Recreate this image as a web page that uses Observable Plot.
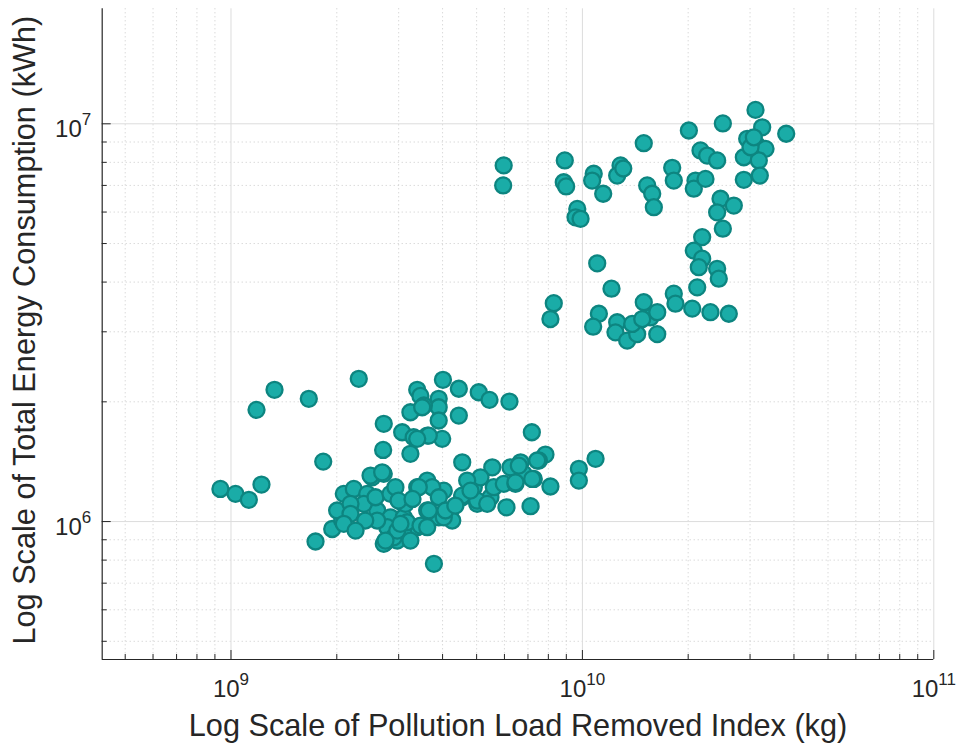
<!DOCTYPE html>
<html>
<head>
<meta charset="utf-8">
<script src="https://cdn.jsdelivr.net/npm/d3@7"></script>
<script src="https://cdn.jsdelivr.net/npm/@observablehq/plot@0.6"></script>
<style>
  html, body { margin: 0; padding: 0; background: #ffffff; }
  #chart svg { display: block; }
</style>
</head>
<body>
<div id="chart"></div>
<script>
// Pollution load removed index, in units of 1e9 kg
const pollutionLoad = [
  5.97, 5.95, 8.91, 8.85, 8.99, 10.77, 10.66, 11.46, 12.84, 12.56, 13.07, 14.95, 15.29, 15.80, 15.97,
  9.67, 9.56, 9.88, 18.01, 18.20, 20.09, 20.98, 20.75, 22.40, 21.68, 22.65, 24.18, 25.10, 24.72, 24.18,
  26.97, 25.10, 21.92, 20.75, 21.92, 21.44, 24.18, 24.44, 21.22, 11.02, 12.10, 8.29, 8.11, 11.14, 10.73,
  12.56, 12.42, 13.41, 14.32, 14.95, 15.62, 16.33, 16.33, 18.20, 18.40, 20.54, 23.14, 26.10, 13.86, 14.80,
  31.09, 32.48, 29.44, 31.44, 33.20, 28.80, 31.77, 28.80, 31.98, 38.02, 30.09, 30.75,
  0.933, 1.030, 1.124, 1.221, 1.182, 1.330, 1.665, 2.310, 1.830, 2.721, 2.710, 3.388, 3.46, 4.01, 4.45,
  5.07, 5.44, 6.20, 3.90, 3.90, 3.24, 3.54, 3.90, 4.45, 3.07, 3.31, 3.62, 3.99, 3.24, 7.18,
  4.55, 5.54, 6.67, 7.85, 7.52, 9.77, 9.77, 10.90, 8.11, 7.12, 6.08, 3.78, 1.740, 1.941, 2.072,
  2.005, 2.094, 2.236, 2.523, 2.721, 2.752, 2.606, 2.843, 3.102, 3.388, 3.617, 4.032, 3.617, 3.388, 3.102,
  2.972, 3.903, 4.262, 4.550, 4.909, 5.019, 5.476, 5.595, 5.974, 6.450, 6.812, 7.273, 6.242, 5.129, 4.700,
  2.441, 2.388, 2.578, 2.843, 3.102, 2.783, 2.606, 2.495, 2.693, 2.721, 2.905, 3.172, 3.462, 3.737, 3.903,
  4.032, 2.188, 2.188, 2.094, 2.972, 3.50, 3.655, 3.388, 6.592, 7.437, 6.450, 7.197, 4.550, 5.019, 5.360,
  4.804, 4.077, 3.655, 3.137, 3.423, 2.937, 3.617, 3.036, 2.752, 2.997, 3.285, 4.35, 2.41, 3.24, 2.262
];
// Total energy consumption, in units of 1e6 kWh
const energyUse = [
  7.86, 7.00, 8.09, 7.13, 6.96, 7.49, 7.20, 6.67, 7.86, 7.41, 7.72, 8.94, 7.00, 6.67, 6.17,
  6.11, 5.82, 5.77, 7.75, 7.20, 9.62, 7.20, 6.87, 7.27, 8.57, 8.32, 8.09, 10.02, 6.48, 5.99,
  6.23, 5.45, 5.19, 4.80, 4.58, 4.36, 4.32, 4.08, 3.88, 4.46, 3.85, 3.54, 3.23, 3.33, 3.09,
  3.17, 2.99, 2.85, 2.96, 3.56, 3.26, 3.36, 2.96, 3.74, 3.53, 3.43, 3.36, 3.33, 3.14, 3.23,
  10.84, 9.80, 9.17, 8.82, 8.65, 8.24, 8.09, 7.23, 7.41, 9.44, 8.73, 9.25,
  1.208, 1.174, 1.134, 1.239, 1.909, 2.144, 2.035, 2.285, 1.415, 1.761, 1.514, 2.144, 2.07, 2.272, 2.157,
  2.114, 2.023, 2.003, 2.035, 1.938, 1.883, 1.958, 1.795, 1.847, 1.677, 1.629, 1.645, 1.614, 1.480, 1.677,
  1.409, 1.369, 1.409, 1.474, 1.424, 1.357, 1.268, 1.438, 1.225, 1.093, 1.086, 0.783, 0.891, 0.958, 1.006,
  1.066, 1.174, 1.208, 1.292, 1.318, 0.887, 1.066, 1.025, 1.108, 1.220, 1.268, 1.196, 1.066, 0.968, 0.931,
  0.896, 1.025, 1.006, 1.151, 1.220, 1.108, 1.151, 1.220, 1.244, 1.244, 1.318, 1.280, 1.369, 1.292, 1.268,
  1.174, 1.108, 1.151, 1.174, 1.025, 0.968, 1.006, 1.305, 1.330, 0.879, 0.913, 0.996, 0.977, 1.220, 1.151,
  1.025, 1.108, 1.046, 0.987, 0.949, 1.938, 1.645, 1.614, 1.383, 1.424, 1.255, 1.280, 1.162, 1.129, 1.108,
  1.196, 1.066, 1.066, 1.108, 1.220, 1.220, 0.968, 0.987, 0.896, 1.129, 1.14, 1.097, 1.006, 0.896, 0.949
];

// Axis ticks
const xMajorTicks = [1e9, 1e10, 1e11];
const xTickExponents = [9, 10, 11];
const xMinorTicks = [5e8, 6e8, 7e8, 8e8, 9e8, 2e9, 3e9, 4e9, 5e9, 6e9, 7e9, 8e9, 9e9,
                     2e10, 3e10, 4e10, 5e10, 6e10, 7e10, 8e10, 9e10];
const yMajorTicks = [1e6, 1e7];
const yTickExponents = [6, 7];
const yMinorTicks = [5e5, 6e5, 7e5, 8e5, 9e5, 2e6, 3e6, 4e6, 5e6, 6e6, 7e6, 8e6, 9e6];
const xDomain = [4.3e8, 1e11];
const yDomain = [4.5e5, 1.946e7];

const xLabel = "Log Scale of Pollution Load Removed Index (kg)";
const yLabel = "Log Scale of Total Energy Consumption (kWh)";

const points = pollutionLoad.map((v, i) => ({x: v * 1e9, y: energyUse[i] * 1e6}));

const W = 962, H = 755;
const mL = 101.7, mR = 28.7, mT = 8.3, mB = 96;
const innerW = W - mL - mR, innerH = H - mT - mB;
const font = "'Liberation Sans', Arial, Helvetica, sans-serif";
const axisColor = "#262626";

const svg = Plot.plot({
  width: W, height: H,
  marginLeft: mL, marginRight: mR, marginTop: mT, marginBottom: mB,
  style: {fontFamily: font, background: "#ffffff", overflow: "visible"},
  x: {type: "log", domain: xDomain, axis: null},
  y: {type: "log", domain: yDomain, axis: null},
  marks: [
    Plot.ruleX(xMinorTicks, {x: d => d, stroke: "#b8b8b8", strokeOpacity: 0.75, strokeDasharray: "1,3"}),
    Plot.ruleY(yMinorTicks, {y: d => d, stroke: "#b8b8b8", strokeOpacity: 0.75, strokeDasharray: "1,3"}),
    Plot.ruleX(xMajorTicks, {x: d => d, stroke: "#dcdcdc", strokeOpacity: 1}),
    Plot.ruleY(yMajorTicks, {y: d => d, stroke: "#dcdcdc", strokeOpacity: 1}),
    Plot.dot(points, {x: "x", y: "y", r: 8, fill: "#1aaca7", fillOpacity: 1, stroke: "#0d8580", strokeWidth: 2.3}),
    Plot.ruleX([xDomain[0]], {stroke: axisColor, strokeWidth: 1.2}),
    Plot.ruleY([yDomain[0]], {stroke: axisColor, strokeWidth: 1.2}),
    Plot.tickX(xMajorTicks, {x: d => d, insetTop: innerH - 9, stroke: axisColor}),
    Plot.tickX(xMinorTicks, {x: d => d, insetTop: innerH - 5, stroke: axisColor}),
    Plot.tickY(yMajorTicks, {y: d => d, insetRight: innerW - 9, stroke: axisColor}),
    Plot.tickY(yMinorTicks, {y: d => d, insetRight: innerW - 5, stroke: axisColor}),
    Plot.text(xMajorTicks, {x: d => d, text: (d, i) => "10^" + xTickExponents[i], frameAnchor: "bottom",
      dy: 37, fontSize: 24, fill: axisColor, textAnchor: "middle"}),
    Plot.text(yMajorTicks, {y: d => d, text: (d, i) => "10^" + yTickExponents[i], frameAnchor: "left",
      dx: -11, dy: 6, fontSize: 24, fill: axisColor, textAnchor: "end"}),
    Plot.text([xLabel], {text: d => d, frameAnchor: "bottom", dy: 76.6, fontSize: 30.7, fill: axisColor, textAnchor: "middle"}),
    Plot.text([yLabel], {text: d => d, frameAnchor: "left", rotate: -90, dx: -76.6, dy: -4, fontSize: 30.7, fill: axisColor, textAnchor: "middle"})
  ]
});

// Render exponents as superscripts
svg.querySelectorAll("text").forEach(t => {
  const m = t.textContent.match(/^10\^(\d+)$/);
  if (m) {
    t.textContent = "10";
    const ts = document.createElementNS("http://www.w3.org/2000/svg", "tspan");
    ts.setAttribute("dy", "-12");
    ts.setAttribute("font-size", "17");
    ts.textContent = m[1];
    t.appendChild(ts);
  }
});

document.getElementById("chart").appendChild(svg);
</script>
</body>
</html>
